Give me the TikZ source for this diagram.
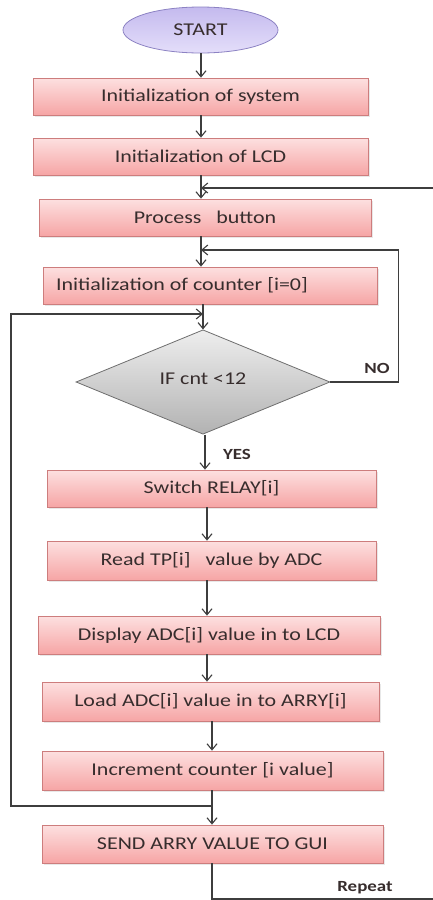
\documentclass[tikz,border=0pt]{standalone}
\usepackage{fontspec}
\setmainfont{Carlito}
\usetikzlibrary{shapes.geometric,arrows.meta,shadows}
\definecolor{boxtop}{RGB}{253,224,224}
\definecolor{boxbot}{RGB}{246,165,165}
\definecolor{boxline}{RGB}{205,125,125}
\definecolor{ovaltop}{RGB}{196,186,238}
\definecolor{ovalbot}{RGB}{228,222,250}
\definecolor{ovalline}{RGB}{140,130,195}
\definecolor{diatop}{RGB}{238,238,238}
\definecolor{diabot}{RGB}{178,178,178}
\definecolor{dialine}{RGB}{110,110,110}
\definecolor{txt}{RGB}{55,45,45}
\definecolor{wire}{RGB}{62,62,62}
\newcommand\stx[1]{\scalebox{1.22}[1]{#1}}
\begin{document}
\begin{tikzpicture}[x=1pt,y=-1pt,
  procbox/.style={rectangle, draw=boxline, line width=0.8pt,
    top color=boxtop, bottom color=boxbot, minimum height=37pt,
    inner sep=0pt, text=txt, font=\fontsize{18}{20}\selectfont,
    drop shadow={opacity=0.18, shadow xshift=1.5pt, shadow yshift=-1.5pt}},
  startnode/.style={ellipse, draw=ovalline, line width=0.8pt,
    top color=ovaltop, bottom color=ovalbot, minimum width=155pt,
    minimum height=46pt, inner sep=0pt, text=txt, font=\fontsize{18}{20}\selectfont},
  decision/.style={diamond, draw=dialine, line width=0.8pt,
    top color=diatop, bottom color=diabot, minimum width=254pt,
    minimum height=100pt, inner sep=0pt, text=txt, font=\fontsize{18}{20}\selectfont},
  lbl/.style={text=txt, font=\fontsize{15.5}{17}\selectfont\bfseries, inner sep=0pt},
  wire/.style={draw=wire, line width=1.1pt},
  arr/.style={wire, -{Straight Barb[length=6pt,width=10pt,line width=1.1pt]}}
]
\useasboundingbox (0,0) rectangle (433,900);

\coordinate (colA) at (201,0);
\coordinate (colB) at (205,0);
\coordinate (colC) at (207,0);
\coordinate (colD) at (212,0);

\node[startnode] (start) at (200.5,30) {\stx{START}};
\node[procbox, minimum width=335pt] (sys) at (200.5,96.5) {\stx{Initialization of system}};
\node[procbox, minimum width=335pt] (lcd) at (200.5,156.5) {\stx{Initialization of LCD}};
\node[procbox, minimum width=332pt] (proc) at (205,217.5) {\stx{Process\ \ \ button}};
\node[procbox, minimum width=334pt] (cnt) at (210,285.5) {\makebox[308pt][l]{\stx{Initialization of counter [i=0]}}};
\node[decision] (dia) at (203,382) {\raisebox{6pt}{\stx{IF cnt <12}}};
\node[procbox, minimum width=329pt] (relay) at (211.5,488.5) {\stx{Switch RELAY[i]}};
\node[procbox, minimum width=329pt, minimum height=39pt] (read) at (211.5,560.5) {\stx{Read TP[i]\ \ \ value by ADC}};
\node[procbox, minimum width=342pt, minimum height=38pt] (disp) at (209,635) {\stx{Display ADC[i] value in to LCD}};
\node[procbox, minimum width=337pt, minimum height=39pt] (load) at (210.5,701.5) {\stx{Load ADC[i] value in to ARRY[i]}};
\node[procbox, minimum width=341pt, minimum height=39pt] (inc) at (212.5,770.5) {\stx{Increment counter [i value]}};
\node[procbox, minimum width=341pt, minimum height=38pt] (send) at (212.5,844) {\stx{SEND ARRY VALUE TO GUI}};

\node[lbl] (no) at (377,368) {\stx{NO}};
\node[lbl] (yes) at (237,454) {\stx{YES}};
\node[lbl] (repeat) at (365,888) {\stx{Repeat}};

% main flow
\draw[arr] (start.south -| colA) -- (sys.north -| colA);
\draw[arr] (sys.south -| colA) -- (lcd.north -| colA);
\draw[arr] (lcd.south -| colA) -- (proc.north -| colA);
\draw[arr] (proc.south -| colA) -- (cnt.north -| colA);
\draw[arr] (cnt.south -| dia.north) -- (dia.north);
\draw[arr] (dia.south -| colB) -- (relay.north -| colB);
\draw[arr] (relay.south -| colC) -- (read.north -| colC);
\draw[arr] (read.south -| colC) -- (disp.north -| colC);
\draw[arr] (disp.south -| colC) -- (load.north -| colC);
\draw[arr] (load.south -| colD) -- (inc.north -| colD);
\draw[arr] (inc.south -| colD) -- (send.north -| colD);

% NO branch back to counter initialisation
\coordinate (noin) at (201,250);
\draw[arr] (dia.east) -- ++(68,0) |- (noin);

% loop back from increment to decision
\coordinate (loopc) at (11,806);
\coordinate (loopin) at (203,314);
\draw[arr] (inc.south -| colD) |- (loopc) |- (loopin);

% repeat
\coordinate (repout) at (433,899);
\coordinate (repin) at (433,188);
\draw[wire] (send.south -| colD) |- (repout);
\draw[arr] (repin) -- (repin -| colA);
\end{tikzpicture}
\end{document}
